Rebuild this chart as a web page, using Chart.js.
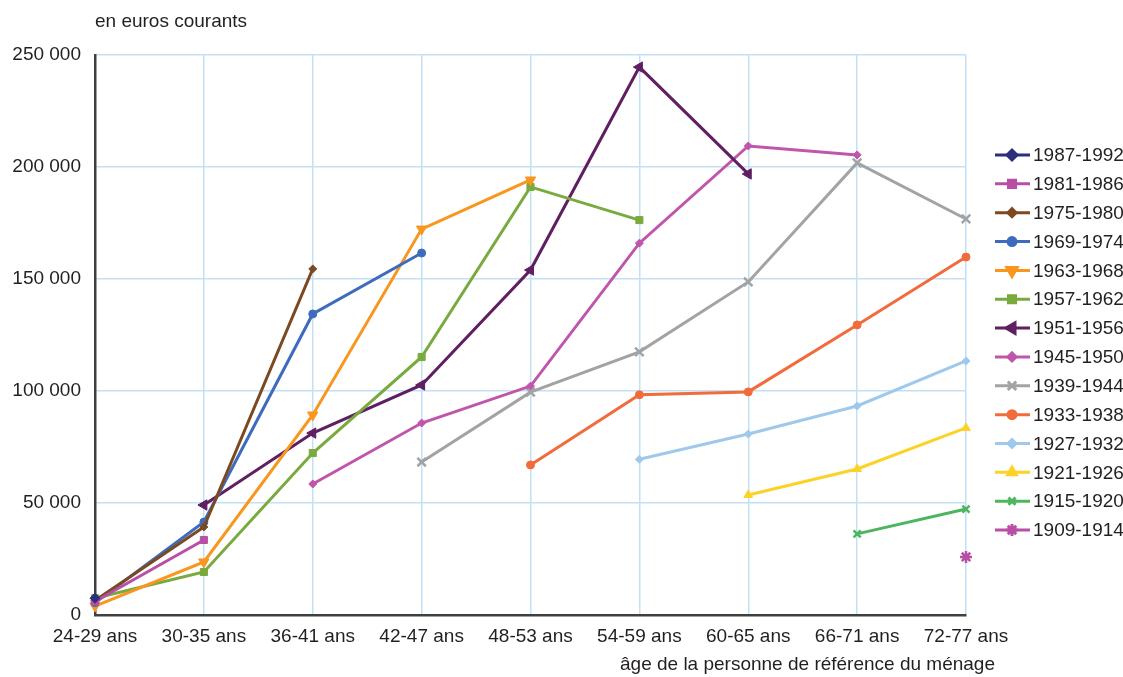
<!DOCTYPE html>
<html>
<head>
<meta charset="utf-8">
<script src="https://cdn.jsdelivr.net/npm/chart.js"></script>
<style>
  body { margin: 0; background: #ffffff; }
  #wrap { width: 1123px; height: 677px; }
</style>
</head>
<body>
<div id="wrap"><canvas id="myChart" width="1123" height="677"></canvas></div>
<script>
// age groups (x axis)
const ages = ['24-29 ans', '30-35 ans', '36-41 ans', '42-47 ans', '48-53 ans', '54-59 ans', '60-65 ans', '66-71 ans', '72-77 ans'];
const yTicks = [0, 50000, 100000, 150000, 200000, 250000];

// generations (legend order)
const generations = ['1987-1992', '1981-1986', '1975-1980', '1969-1974', '1963-1968', '1957-1962', '1951-1956',
  '1945-1950', '1939-1944', '1933-1938', '1927-1932', '1921-1926', '1915-1920', '1909-1914'];

// median wealth, euros courants
const g1987 = [7500, null, null, null, null, null, null, null, null];
const g1981 = [6000, 33500, null, null, null, null, null, null, null];
const g1975 = [6500, 39300, 154500, null, null, null, null, null, null];
const g1969 = [5500, 41500, 134400, 161600, null, null, null, null, null];
const g1963 = [4000, 23700, 89300, 172300, 194200, null, null, null, null];
const g1957 = [7500, 19200, 72300, 115200, 191100, 176300, null, null, null];
const g1951 = [null, 49100, 81200, 102700, 154000, 244600, 196900, null, null];
const g1945 = [null, null, 58500, 85700, 102200, 166000, 209400, 205400, null];
const g1939 = [null, null, null, 68300, 99500, 117500, 148700, 201800, 176800];
const g1933 = [null, null, null, null, 67000, 98300, 99600, 129500, 159800];
const g1927 = [null, null, null, null, null, 69500, 80800, 93300, 113400];
const g1921 = [null, null, null, null, null, null, 53600, 65200, 83500];
const g1915 = [null, null, null, null, null, null, null, 36200, 47300];
const g1909 = [null, null, null, null, null, null, null, null, 25900];

const series = [g1987, g1981, g1975, g1969, g1963, g1957, g1951, g1945, g1939, g1933, g1927, g1921, g1915, g1909];
const colors = ['#2d2f7c', '#b94fa4', '#7b4a21', '#3f6bbf', '#f8961f', '#79aa3d', '#5f1f62',
  '#c056ab', '#a3a3a3', '#f26b3b', '#9ec9ec', '#fdd226', '#4db55d', '#b94fa4'];
const styles = ['rectRot', 'rect', 'rectRot', 'circle', 'triangle', 'rect', 'triangle',
  'rectRot', 'crossRot', 'circle', 'rectRot', 'triangle', 'crossRot', 'star'];
const rotations = [0, 0, 0, 0, 180, 0, -90, 0, 0, 0, 0, 0, 0, 0];
const radii = [5, 5, 4, 4, 6, 5, 6, 4, 6, 4, 4, 5, 5, 6];

const FONT = "'Liberation Sans', Arial, sans-serif";
const FSIZE = 19;
const TXT = '#231f20';

const fmt = v => String(v).replace(/\B(?=(\d{3})+(?!\d))/g, ' ');

const datasets = series.map((d, i) => ({
  label: generations[i],
  data: d,
  borderColor: colors[i],
  backgroundColor: colors[i],
  borderWidth: 3,
  pointStyle: styles[i],
  rotation: rotations[i],
  pointRadius: radii[i],
  pointBorderWidth: styles[i].startsWith('cross') || styles[i] === 'star' ? 2.5 : 1,
  spanGaps: false,
  tension: 0
}));

// legend + axis titles drawn on the canvas
const extras = {
  id: 'extras',
  afterDraw(chart) {
    const ctx = chart.ctx;
    ctx.save();
    ctx.fillStyle = TXT;
    ctx.font = FSIZE + 'px ' + FONT;
    ctx.textBaseline = 'middle';
    ctx.textAlign = 'left';
    ctx.fillText('en euros courants', 95, 22);
    ctx.textAlign = 'right';
    ctx.fillText('âge de la personne de référence du ménage', 995, 665);

    ctx.textAlign = 'left';
    chart.data.datasets.forEach((ds, i) => {
      const y = 155 + i * 28.85;
      ctx.strokeStyle = ds.borderColor;
      ctx.lineWidth = 3;
      ctx.beginPath();
      ctx.moveTo(995, y);
      ctx.lineTo(1030, y);
      ctx.stroke();
      Chart.helpers.drawPoint(ctx, {
        pointStyle: ds.pointStyle,
        rotation: ds.rotation,
        radius: ds.pointRadius,
        borderWidth: ds.pointBorderWidth
      }, 1012, y);
      ctx.fillStyle = ds.backgroundColor;
      ctx.fill();
      ctx.fillStyle = TXT;
      ctx.fillText(ds.label, 1033, y + 1);
    });
    ctx.restore();
  }
};

const ctx = document.getElementById('myChart').getContext('2d');
new Chart(ctx, {
  type: 'line',
  data: { labels: ages, datasets: datasets },
  options: {
    responsive: false,
    animation: false,
    layout: { padding: { top: 55, right: 157, left: 0, bottom: 0 } },
    plugins: {
      legend: { display: false },
      tooltip: { enabled: false }
    },
    scales: {
      x: {
        offset: false,
        afterFit(scale) { scale.height = 62; },
        grid: { color: '#c2e1f5', lineWidth: 1.5, drawTicks: false },
        border: { color: '#404040', width: 2.5 },
        ticks: { color: TXT, font: { family: FONT, size: FSIZE }, padding: 10, maxRotation: 0, autoSkip: false }
      },
      y: {
        min: 0,
        max: 250000,
        afterFit(scale) { scale.width = 95; },
        afterBuildTicks(scale) { scale.ticks = yTicks.map(v => ({ value: v })); },
        grid: { color: '#c2e1f5', lineWidth: 1.5, drawTicks: false },
        border: { color: '#404040', width: 2.5 },
        ticks: { color: TXT, font: { family: FONT, size: FSIZE }, padding: 14, callback: v => fmt(v) }
      }
    }
  },
  plugins: [extras]
});
</script>
</body>
</html>
